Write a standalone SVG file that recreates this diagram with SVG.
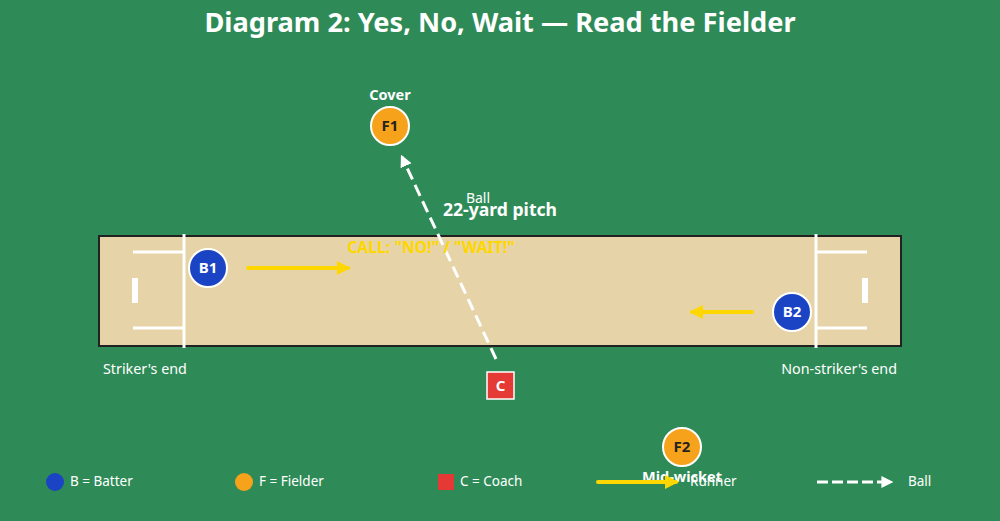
<svg xmlns="http://www.w3.org/2000/svg" width="1000" height="521" viewBox="0 0 1000 521">
<defs>
<style>
text{font-family:"Noto Sans","Open Sans","DejaVu Sans",sans-serif}
.crease{stroke:#fff;stroke-width:3;fill:none}
.bat{fill:#1a44c4;stroke:#fff;stroke-width:2}
.fld{fill:#f7a21b;stroke:#fff;stroke-width:2}
.lbl{fill:#fff;font-size:15px;font-weight:bold;text-anchor:middle}
.dark{fill:#222;font-size:15px;font-weight:bold;text-anchor:middle}
.cap{fill:#fff;font-size:14.5px;font-weight:bold;text-anchor:middle}
.txt{fill:#fff;font-size:14.3px}
.leg{fill:#fff;font-size:13.5px}
.run{stroke:#ffd700;stroke-width:4;stroke-linecap:round;fill:none}
.ball{stroke:#fff;stroke-width:3;fill:none}
</style>
<marker id="ya" viewBox="0 0 10 10" refX="8" refY="5" markerWidth="3.5" markerHeight="3.5" orient="auto"><path d="M0,0 L10,5 L0,10 z" fill="#ffd700"/></marker>
<marker id="wa" viewBox="0 0 10 10" refX="8" refY="5" markerWidth="4" markerHeight="4" orient="auto"><path d="M0,0 L10,5 L0,10 z" fill="#fff"/></marker>
</defs>
<rect x="0" y="0" width="1000" height="521" fill="#2e8b57"/>
<text x="500" y="32" text-anchor="middle" fill="#fff" font-size="27.2" font-weight="bold">Diagram 2: Yes, No, Wait — Read the Fielder</text>

<g id="pitch">
<rect x="99" y="236" width="802" height="110" fill="#e6d4a8" stroke="#222" stroke-width="2"/>
<line class="crease" x1="184" y1="234" x2="184" y2="348"/>
<line class="crease" x1="133" y1="252" x2="184" y2="252"/>
<line class="crease" x1="133" y1="328" x2="184" y2="328"/>
<rect x="132" y="278" width="6" height="25" fill="#fff"/>
<line class="crease" x1="816" y1="234" x2="816" y2="348"/>
<line class="crease" x1="816" y1="252" x2="867" y2="252"/>
<line class="crease" x1="816" y1="328" x2="867" y2="328"/>
<rect x="862" y="278" width="6" height="25" fill="#fff"/>
<text x="500" y="216" text-anchor="middle" fill="#fff" font-size="17.6" font-weight="bold">22-yard pitch</text>
<text x="103" y="374" class="txt">Striker's end</text>
<text x="897" y="374" class="txt" text-anchor="end">Non-striker's end</text>
</g>

<g id="connectors">
<line class="run" x1="248" y1="268" x2="348" y2="268" marker-end="url(#ya)"/>
<line class="run" x1="752" y1="312" x2="692" y2="312" marker-end="url(#ya)"/>
<line class="ball" style="stroke-dasharray:12 6" x1="496" y1="359" x2="402" y2="157" marker-end="url(#wa)"/>
<text x="478" y="203" text-anchor="middle" fill="#fff" font-size="14">Ball</text>
</g>

<text x="431" y="253" text-anchor="middle" fill="#ffd700" font-size="15.8" font-weight="bold">CALL: "NO!" / "WAIT!"</text>

<g id="B1"><circle class="bat" cx="208" cy="268" r="19"/><text class="lbl" x="208" y="273">B1</text></g>
<g id="B2"><circle class="bat" cx="792" cy="312" r="19"/><text class="lbl" x="792" y="317">B2</text></g>
<g id="F1"><text class="cap" x="390" y="100">Cover</text><circle class="fld" cx="390" cy="126" r="19"/><text class="dark" x="390" y="131">F1</text></g>
<g id="C"><rect x="487" y="372" width="27" height="27" fill="#e53935" stroke="#fff" stroke-width="1.5"/><text class="lbl" x="500.5" y="391">C</text></g>
<g id="F2"><circle class="fld" cx="682" cy="447" r="19"/><text class="dark" x="682" y="452">F2</text><text class="cap" x="682" y="482">Mid-wicket</text></g>

<g id="legend">
<circle cx="55" cy="482" r="9" fill="#1a44c4"/><text class="leg" x="70" y="486">B = Batter</text>
<circle cx="244" cy="482" r="9" fill="#f7a21b"/><text class="leg" x="259" y="486">F = Fielder</text>
<rect x="438" y="474" width="16" height="16" fill="#e53935"/><text class="leg" x="460" y="486">C = Coach</text>
<line class="run" x1="598" y1="482" x2="676" y2="482" marker-end="url(#ya)"/><text class="leg" x="690" y="486">Runner</text>
<line class="ball" style="stroke-dasharray:11 4" x1="817" y1="482" x2="891" y2="482" marker-end="url(#wa)"/><text class="leg" x="908" y="486">Ball</text>
</g>
</svg>
